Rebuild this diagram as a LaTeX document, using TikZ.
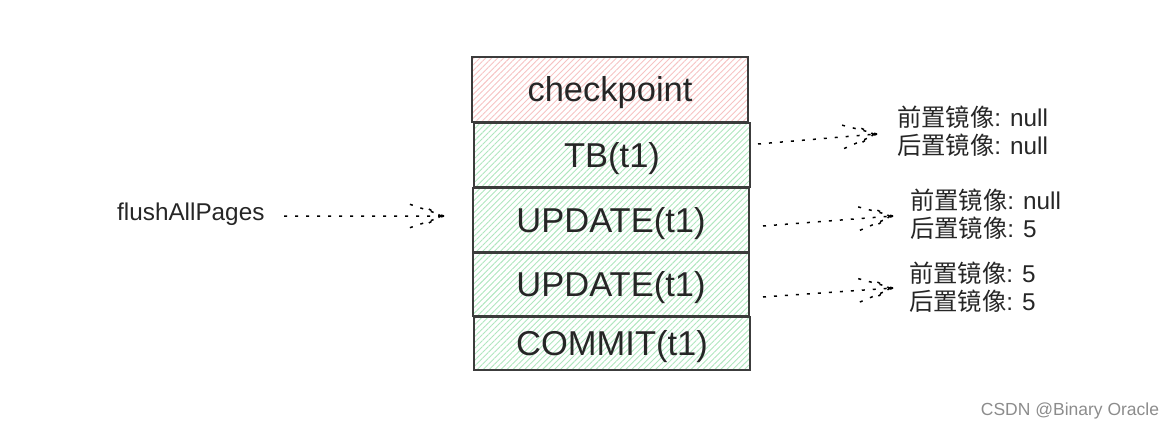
\documentclass[tikz,border=0pt]{standalone}
\usepackage{fontspec}
\setmainfont{Liberation Sans}
\newfontfamily\cjk{Noto Sans CJK SC}
\usetikzlibrary{calc,patterns.meta}
\definecolor{hgreen}{RGB}{175,230,190}
\definecolor{hpink}{RGB}{246,195,195}
\definecolor{boxline}{RGB}{60,60,60}
\begin{document}
\begin{tikzpicture}[x=1pt,y=-1pt,
  logbox/.style={draw=boxline,line width=1.3pt,minimum width=276pt,inner sep=0pt,
    font=\fontsize{34.5}{40}\selectfont,text=black!85,text height=30.5pt,text depth=6pt},
  greenfill/.style={pattern={Lines[angle=45,distance=4.2pt,line width=0.9pt]},pattern color=hgreen},
  pinkfill/.style={pattern={Lines[angle=45,distance=4.2pt,line width=0.9pt]},pattern color=hpink},
  lbl/.style={font=\fontsize{24.3}{28}\selectfont,align=left,anchor=west,inner sep=0pt,text=black!85},
  dotarrow/.style={draw=black,line width=1.5pt,dash pattern=on 3pt off 8pt,
    to path={(\tikztostart) -- (\tikztotarget)
      (\tikztotarget) -- ($(\tikztotarget)!37pt!19:(\tikztostart)$)
      (\tikztotarget) -- ($(\tikztotarget)!37pt!-19:(\tikztostart)$)
      ($(\tikztotarget)!3pt!(\tikztostart)$) -- ($(\tikztotarget)!22pt!26:(\tikztostart)$)
      ($(\tikztotarget)!3pt!(\tikztostart)$) -- ($(\tikztotarget)!22pt!-26:(\tikztostart)$)}}
]
\useasboundingbox (0,0) rectangle (1175,431);

\node[logbox,pinkfill,minimum height=65pt] (cp) at (610,89.5) {checkpoint};
\node[logbox,greenfill,minimum height=64pt] (tb) at (612,155) {TB(t1)};
\node[logbox,greenfill,minimum height=64pt] (u1) at (611,220) {UPDATE(t1)};
\node[logbox,greenfill,minimum height=63pt] (u2) at (611,284.5) {UPDATE(t1)};
\node[logbox,greenfill,minimum height=53pt] (cm) at (612,343.5) {COMMIT(t1)};

\node[lbl] (fl) at (117,214) {flushAllPages};
\node[lbl] (l1) at (897,131) {{\cjk 前置镜像}: null\\{\cjk 后置镜像}: null};
\node[lbl] (l2) at (910,214) {{\cjk 前置镜像}: null\\{\cjk 后置镜像}: 5};
\node[lbl] (l3) at (909,287) {{\cjk 前置镜像}: 5\\{\cjk 后置镜像}: 5};

\coordinate (s0) at (284,216);
\coordinate (t0) at (444,216);
\coordinate (s1) at (758,144);
\coordinate (t1) at (877,134);
\coordinate (s2) at (763,226);
\coordinate (t2) at (893,216);
\coordinate (s3) at (763,297);
\coordinate (t3) at (893,288);

\draw[dotarrow] (s0) to (t0);
\draw[dotarrow] (s1) to (t1);
\draw[dotarrow] (s2) to (t2);
\draw[dotarrow] (s3) to (t3);

\node[font=\fontsize{17.5}{20}\selectfont,text=black!45,inner sep=0pt] (wm) at (1070,411) {CSDN @Binary Oracle};
\end{tikzpicture}
\end{document}
